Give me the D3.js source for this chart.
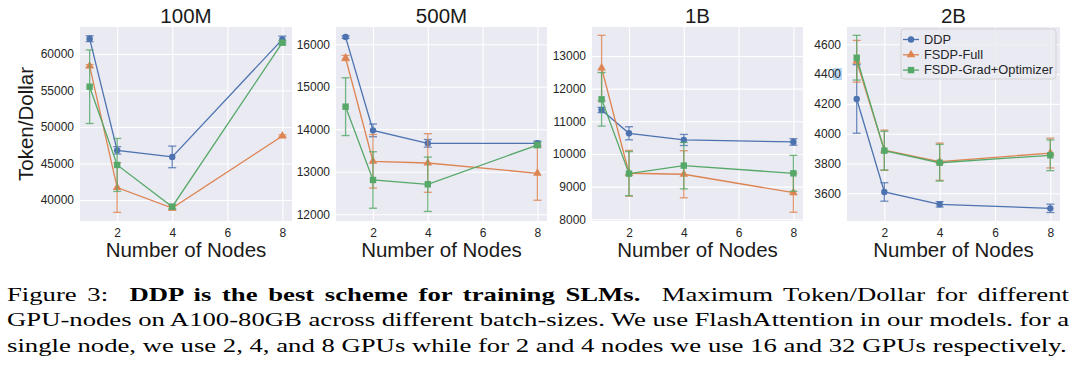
<!DOCTYPE html>
<html>
<head>
<meta charset="utf-8">
<script src="https://cdn.jsdelivr.net/npm/d3@7"></script>
<style>
  body { margin: 0; background: #fff; }
  svg { display: block; }
  .cap { font-family: "Liberation Serif", "Times New Roman", Times, "Nimbus Roman", "Nimbus Roman No9 L", FreeSerif, serif; }
</style>
</head>
<body>
<div id="chart"></div>
<script>
// panels and x values
var panels = ["100M", "500M", "1B", "2B"];
var nodes = [1, 2, 4, 8];
var seriesNames = ["DDP", "FSDP-Full", "FSDP-Grad+Optimizer"];
var xTicks = [2, 4, 6, 8];

// mean Token/Dollar, one row per panel
var ddpMean = [
  [62100, 46800, 45900, 62000],
  [16170, 13975, 13670, 13670],
  [11347, 10634, 10429, 10368],
  [4233, 3609, 3526, 3499]
];
var ddpErr = [
  [400, 500, 1480, 450],
  [30, 150, 90, 50],
  [80, 200, 170, 100],
  [230, 62, 18, 28]
];
var fullMean = [
  [58350, 41700, 38900, 48770],
  [15678, 13247, 13207, 12965],
  [12633, 9410, 9379, 8816],
  [4486, 3889, 3812, 3870]
];
var fullErr = [
  [200, 3400, 300, 150],
  [60, 630, 690, 635],
  [1000, 700, 720, 600],
  [140, 135, 125, 100]
];
var gradMean = [
  [55520, 44800, 39080, 61550],
  [14532, 12807, 12706, 13630],
  [11674, 9398, 9643, 9408],
  [4510, 3886, 3805, 3855]
];
var gradErr = [
  [5040, 3630, 300, 300],
  [680, 665, 640, 60],
  [820, 675, 710, 550],
  [150, 130, 123, 103]
];

// y ticks per panel
var yTicks = [
  [40000, 45000, 50000, 55000, 60000],
  [12000, 13000, 14000, 15000, 16000],
  [8000, 9000, 10000, 11000, 12000, 13000],
  [3600, 3800, 4000, 4200, 4400, 4600]
];
var yDomains = [
  [37120, 63700],
  [11842, 16407],
  [7948, 13888],
  [3414, 4716]
];

var captionLines = [
  [["Figure 3:  ", "normal"], ["DDP is the best scheme for training SLMs.", "bold"], ["  Maximum Token/Dollar for different", "normal"]],
  [["GPU-nodes on A100-80GB across different batch-sizes. We use FlashAttention in our models. for a", "normal"]],
  [["single node, we use 2, 4, and 8 GPUs while for 2 and 4 nodes we use 16 and 32 GPUs respectively.", "normal"]]
];

var colors = ["#4c72b0", "#dd8452", "#55a868"];
var means = [ddpMean, fullMean, gradMean];
var errs = [ddpErr, fullErr, gradErr];

var width = 1080, height = 376;
var plotX = [[80, 292], [336, 547], [592, 803], [847, 1060]];
var plotTop = 27, plotBottom = 221;
var sans = "'Liberation Sans', Arial, sans-serif";

var svg = d3.select("#chart").append("svg")
  .attr("width", width)
  .attr("height", height);

function marker(g, kind, cx, cy, color) {
  if (kind == 0) {
    g.append("circle").attr("cx", cx).attr("cy", cy).attr("r", 3.2).attr("fill", color);
  } else if (kind == 1) {
    g.append("path")
      .attr("d", d3.symbol().type(d3.symbolTriangle).size(32)())
      .attr("transform", "translate(" + cx + "," + cy + ")")
      .attr("fill", color);
  } else {
    g.append("rect").attr("x", cx - 3.2).attr("y", cy - 3.2)
      .attr("width", 6.4).attr("height", 6.4).attr("fill", color);
  }
}

panels.forEach(function(name, p) {
  var x = d3.scaleLinear().domain([0.65, 8.35]).range(plotX[p]);
  var y = d3.scaleLinear().domain(yDomains[p]).range([plotBottom, plotTop]);
  var g = svg.append("g");

  g.append("rect")
    .attr("x", plotX[p][0]).attr("y", plotTop)
    .attr("width", plotX[p][1] - plotX[p][0]).attr("height", plotBottom - plotTop)
    .attr("fill", "#eaeaf2");

  // grid via axes
  g.append("g")
    .attr("transform", "translate(0," + plotBottom + ")")
    .call(d3.axisBottom(x).tickValues(xTicks).tickSize(-(plotBottom - plotTop)).tickPadding(7).tickFormat(d3.format("d")))
    .call(function(a) {
      a.select(".domain").remove();
      a.selectAll("line").attr("stroke", "#fff").attr("stroke-width", 1.1);
      a.selectAll("text").attr("fill", "#262626").attr("font-size", 12).attr("font-family", sans);
    });
  g.append("g")
    .attr("transform", "translate(" + plotX[p][0] + ",0)")
    .call(d3.axisLeft(y).tickValues(yTicks[p]).tickSize(-(plotX[p][1] - plotX[p][0])).tickPadding(6).tickFormat(d3.format("d")))
    .call(function(a) {
      a.select(".domain").remove();
      a.selectAll("line").attr("stroke", "#fff").attr("stroke-width", 1.1);
      a.selectAll("text").attr("fill", "#262626").attr("font-size", 12).attr("font-family", sans);
    });

  // series
  means.forEach(function(m, s) {
    var vals = m[p];
    var e = errs[s][p];
    var sg = g.append("g");
    var pts = nodes.map(function(n, i) { return [x(n), y(vals[i])]; });
    sg.append("path")
      .attr("d", d3.line()(pts))
      .attr("fill", "none")
      .attr("stroke", colors[s])
      .attr("stroke-width", 1.3);
    nodes.forEach(function(n, i) {
      var cx = x(n), y0 = y(vals[i] - e[i]), y1 = y(vals[i] + e[i]);
      sg.append("line").attr("x1", cx).attr("x2", cx).attr("y1", y0).attr("y2", y1)
        .attr("stroke", colors[s]).attr("stroke-width", 1.3).attr("opacity", 0.8);
      [y0, y1].forEach(function(yy) {
        sg.append("line").attr("x1", cx - 4).attr("x2", cx + 4).attr("y1", yy).attr("y2", yy)
          .attr("stroke", colors[s]).attr("stroke-width", 1.3).attr("opacity", 0.8);
      });
      marker(sg, s, cx, y(vals[i]), colors[s]);
    });
  });

  var cx = (plotX[p][0] + plotX[p][1]) / 2;
  svg.append("text")
    .attr("x", cx).attr("y", 23)
    .attr("text-anchor", "middle")
    .attr("font-family", sans).attr("font-size", 20.5)
    .attr("fill", "#1a1a1a")
    .text(name);
  svg.append("text")
    .attr("x", cx).attr("y", 257)
    .attr("text-anchor", "middle")
    .attr("font-family", sans).attr("font-size", 20.5)
    .attr("fill", "#1a1a1a")
    .text("Number of Nodes");
});

// y label on first panel
svg.append("text")
  .attr("transform", "translate(33,124) rotate(-90)")
  .attr("text-anchor", "middle")
  .attr("font-family", sans).attr("font-size", 20.5)
  .attr("fill", "#1a1a1a")
  .text("Token/Dollar");

// selection highlight artifact on the 4400 tick
svg.insert("rect", "g")
  .attr("x", 833).attr("y", 68).attr("width", 9).attr("height", 12)
  .attr("fill", "#b7d7f2");

// legend
var lg = svg.append("g");
lg.append("rect")
  .attr("x", 901).attr("y", 29).attr("width", 155).attr("height", 50).attr("rx", 3)
  .attr("fill", "#eaeaf2").attr("fill-opacity", 0.85)
  .attr("stroke", "#cccccc").attr("stroke-width", 0.8);
seriesNames.forEach(function(n, s) {
  var yy = 39.5 + s * 15.3;
  lg.append("line").attr("x1", 903).attr("x2", 919).attr("y1", yy).attr("y2", yy)
    .attr("stroke", colors[s]).attr("stroke-width", 1.3);
  marker(lg, s, 911, yy, colors[s]);
  lg.append("text").attr("x", 924).attr("y", yy + 4.3)
    .attr("font-family", sans).attr("font-size", 12.8).attr("fill", "#262626")
    .text(n);
});

// caption: last line is natural width, first two are justified
var capLeft = 7, capRight = 1067;
var cap = svg.append("g");
var capTexts = captionLines.map(function(line, i) {
  var t = cap.append("text")
    .attr("class", "cap")
    .attr("x", 0).attr("y", 301 + i * 25.5)
    .attr("font-size", 18.5)
    .attr("fill", "#000")
    .style("white-space", "pre");
  line.forEach(function(part) {
    t.append("tspan").attr("font-weight", part[1]).text(part[0]);
  });
  return t;
});
var sx = (capRight - capLeft) / capTexts[2].node().getComputedTextLength();
cap.attr("transform", "translate(" + capLeft + ",0) scale(" + sx + ",1)");
[0, 1].forEach(function(i) {
  var t = capTexts[i];
  var w = t.node().getComputedTextLength();
  var full = captionLines[i].map(function(p) { return p[0]; }).join("");
  var spaces = (full.match(/ /g) || []).length;
  t.attr("word-spacing", ((capRight + 2 - capLeft) / sx - w) / spaces);
});
</script>
</body>
</html>
